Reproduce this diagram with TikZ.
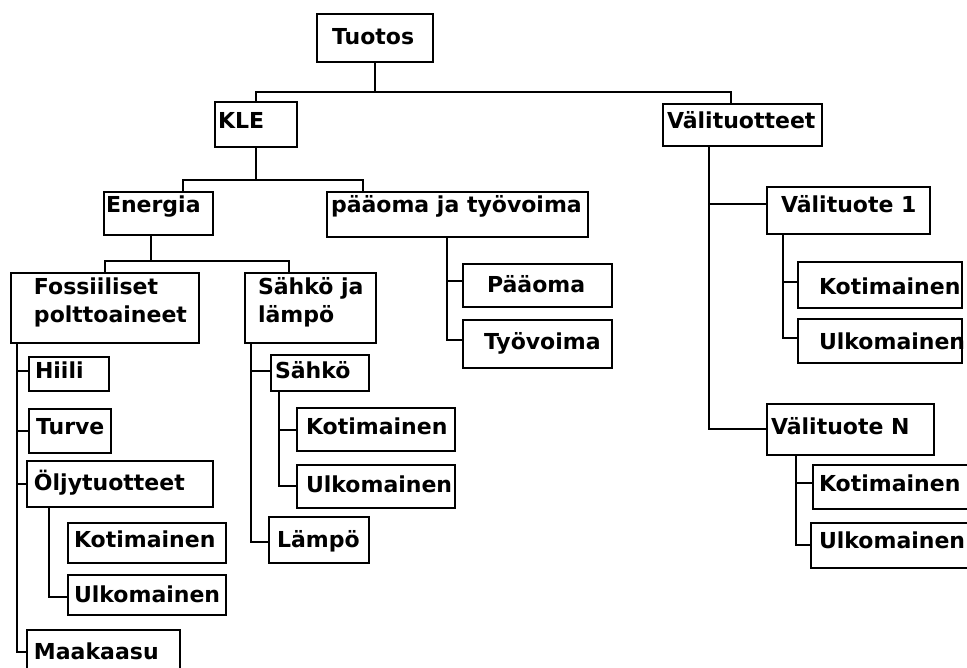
\documentclass[tikz,border=0pt]{standalone}
\usepackage{fontspec}
\setmainfont{DejaVu Sans}
\tikzset{
  box/.style={draw, line width=1.9pt, inner sep=0pt, outer sep=0pt, anchor=north west,
    font=\bfseries\fontsize{22}{28}\selectfont},
  conn/.style={line width=1.9pt}
}
\newcommand\twol[2]{\vtop{\hbox{#1}\hbox{#2}}}
\newcommand\bx[8]{%
  \pgfmathsetmacro\bw{#4-#2}%
  \pgfmathsetmacro\bth{#7-#3}%
  \pgfmathsetmacro\btd{#5-#7}%
  \pgfmathsetmacro\bp{#6-#2}%
  \node[box, text height=\bth pt, text depth=\btd pt] (#1) at (#2,#3)
    {\makebox[\bw pt][l]{\hspace*{\bp pt}#8}};}
\begin{document}
\begin{tikzpicture}[x=1pt, y=-1pt]
\clip (0,0) rectangle (967,668);
\fill[white] (0,0) rectangle (967,668);
% boxes
\bx{tuotos}{317}{14}{433}{62}{332}{45}{Tuotos}
\bx{kle}{215}{102}{297}{147}{218}{129}{KLE}
\bx{vt}{663}{104}{822}{146}{667}{129}{Välituotteet}
\bx{en}{104}{192}{213}{235}{106}{213}{Energia}
\bx{pt}{327}{192}{588}{237}{331}{213}{pääoma ja työvoima}
\bx{fo}{11}{273}{199}{343}{34}{295}{\twol{Fossiiliset}{polttoaineet}}
\bx{sl}{245}{273}{376}{343}{258}{295}{\twol{Sähkö ja}{lämpö}}
\bx{hi}{29}{357}{109}{391}{35}{378}{Hiili}
\bx{tu}{29}{409}{111}{453}{36}{435}{Turve}
\bx{oj}{27}{461}{213}{507}{34}{490}{Öljytuotteet}
\bx{ko1}{68}{523}{226}{563}{74}{547}{Kotimainen}
\bx{ul1}{68}{575}{226}{615}{74}{602}{Ulkomainen}
\bx{ma}{27}{630}{180}{672}{34}{659}{Maakaasu}
\bx{sa}{271}{355}{369}{391}{275}{378}{Sähkö}
\bx{ko2}{297}{408}{455}{451}{306}{435}{Kotimainen}
\bx{ul2}{297}{465}{455}{508}{306}{492}{Ulkomainen}
\bx{la}{269}{517}{369}{563}{277}{547}{Lämpö}
\bx{pa}{463}{264}{612}{307}{487}{293}{Pääoma}
\bx{ty}{463}{320}{612}{368}{484}{350}{Työvoima}
\bx{v1}{767}{187}{930}{234}{781}{213}{Välituote 1}
\bx{ko3}{798}{262}{962}{308}{819}{295}{Kotimainen}
\bx{ul3}{798}{319}{962}{363}{819}{350}{Ulkomainen}
\bx{vn}{767}{404}{934}{455}{771}{435}{Välituote N}
\bx{ko4}{813}{465}{975}{509}{819}{491}{Kotimainen}
\bx{ul4}{811}{523}{975}{568}{819}{548}{Ulkomainen}
% connectors
\draw[conn] (tuotos.south) -- ++(0,30) coordinate (tj);
\draw[conn] (kle.north) |- (tj);
\draw[conn] ([xshift=68pt]vt.north west) |- (tj);
\draw[conn] (kle.south) -- ++(0,33) coordinate (kj);
\draw[conn] ([xshift=79pt]en.north west) |- (kj);
\draw[conn] ([xshift=36pt]pt.north west) |- (kj);
\draw[conn] ([xshift=47pt]en.south west) -- ++(0,26) coordinate (ej);
\draw[conn] ([xshift=94pt]fo.north west) |- (ej);
\draw[conn] ([xshift=44pt]sl.north west) |- (ej);
% Fossiiliset
\draw[conn] ([xshift=6pt]fo.south west) |- ([yshift=-14pt]hi.north west);
\draw[conn] ([xshift=6pt]fo.south west) |- ([yshift=-22pt]tu.north west);
\draw[conn] ([xshift=6pt]fo.south west) |- ([yshift=-23pt]oj.north west);
\draw[conn] ([xshift=6pt]fo.south west) |- ([yshift=-22pt]ma.north west);
\draw[conn] ([xshift=22pt]oj.south west) |- ([yshift=-22pt]ul1.north west);
% Sahko ja lampo
\draw[conn] ([xshift=6pt]sl.south west) |- ([yshift=-16pt]sa.north west);
\draw[conn] ([xshift=6pt]sl.south west) |- ([yshift=-25pt]la.north west);
\draw[conn] ([xshift=8pt]sa.south west) |- ([yshift=-22pt]ko2.north west);
\draw[conn] ([xshift=8pt]sa.south west) |- ([yshift=-21pt]ul2.north west);
% paaoma ja tyovoima
\draw[conn] ([xshift=120pt]pt.south west) |- ([yshift=-17pt]pa.north west);
\draw[conn] ([xshift=120pt]pt.south west) |- ([yshift=-20pt]ty.north west);
% Valituotteet
\draw[conn] ([xshift=46pt]vt.south west) |- ([yshift=-17pt]v1.north west);
\draw[conn] ([xshift=46pt]vt.south west) |- ([yshift=-25pt]vn.north west);
\draw[conn] ([xshift=16pt]v1.south west) |- ([yshift=-20pt]ko3.north west);
\draw[conn] ([xshift=16pt]v1.south west) |- ([yshift=-19pt]ul3.north west);
\draw[conn] ([xshift=29pt]vn.south west) |- ([yshift=-18pt]ko4.north west);
\draw[conn] ([xshift=29pt]vn.south west) |- ([yshift=-22pt]ul4.north west);
\end{tikzpicture}
\end{document}
